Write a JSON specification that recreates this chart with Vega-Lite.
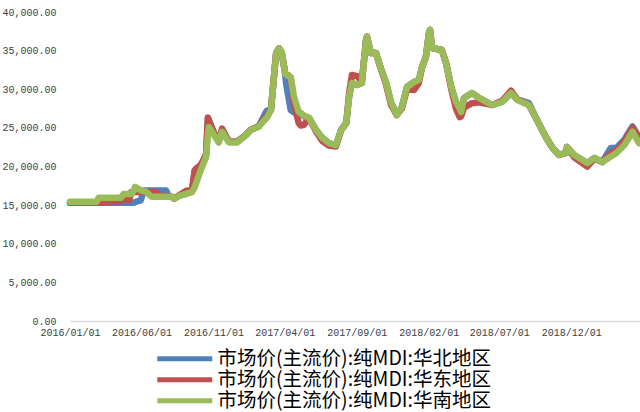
{
  "$schema": "https://vega.github.io/schema/vega-lite/v6.json",
  "width": 570,
  "height": 309,
  "autosize": "none",
  "padding": {"left": 70, "top": 12, "right": 0, "bottom": 91},
  "background": "white",
  "config": {"view": {"stroke": null}},
  "data": {"values": [
    {"d":"2016/01/01","华北地区":15300,"华东地区":15300,"华南地区":15450},
    {"d":"2016/02/27","华北地区":15300,"华东地区":15300,"华南地区":15450},
    {"d":"2016/03/02","华北地区":15300,"华东地区":15300,"华南地区":15960},
    {"d":"2016/04/10","华北地区":15300,"华东地区":15500,"华南地区":15960},
    {"d":"2016/04/18","华北地区":15300,"华东地区":15500,"华南地区":15960},
    {"d":"2016/04/24","华北地区":15300,"华东地区":15660,"华南地区":16440},
    {"d":"2016/05/06","华北地区":15300,"华东地区":15660,"华南地区":16440},
    {"d":"2016/05/10","华北地区":15300,"华东地区":16700,"华南地区":16440},
    {"d":"2016/05/16","华北地区":15300,"华东地区":16700,"华南地区":16900},
    {"d":"2016/05/18","华北地区":15400,"华东地区":16700,"华南地区":17350},
    {"d":"2016/05/30","华北地区":15600,"华东地区":16700,"华南地区":16950},
    {"d":"2016/06/06","华北地区":16900,"华东地区":16700,"华南地区":16800},
    {"d":"2016/06/10","华北地区":16900,"华东地区":16700,"华南地区":16740},
    {"d":"2016/06/23","华北地区":16900,"华东地区":16700,"华南地区":16090},
    {"d":"2016/07/01","华北地区":16900,"华东地区":16700,"华南地区":16090},
    {"d":"2016/07/12","华北地区":16900,"华东地区":16200,"华南地区":16090},
    {"d":"2016/07/23","华北地区":16900,"华东地区":16150,"华南地区":16090},
    {"d":"2016/07/29","华北地区":16100,"华东地区":16100,"华南地区":16090},
    {"d":"2016/08/04","华北地区":16090,"华东地区":16090,"华南地区":16090},
    {"d":"2016/08/09","华北地区":15850,"华东地区":15850,"华南地区":15800},
    {"d":"2016/08/19","华北地区":16200,"华东地区":16250,"华南地区":16180},
    {"d":"2016/09/05","华北地区":16500,"华东地区":16900,"华南地区":16500},
    {"d":"2016/09/14","华北地区":16800,"华东地区":16800,"华南地区":16610},
    {"d":"2016/09/16","华北地区":16800,"华东地区":16800,"华南地区":16700},
    {"d":"2016/09/22","华北地区":19500,"华东地区":19500,"华南地区":17300},
    {"d":"2016/09/25","华北地区":19700,"华东地区":19700,"华南地区":17860},
    {"d":"2016/10/05","华北地区":20200,"华东地区":20200,"华南地区":19550},
    {"d":"2016/10/16","华北地区":21500,"华东地区":21500,"华南地区":21230},
    {"d":"2016/10/20","华北地区":26300,"华东地区":26300,"华南地区":24000},
    {"d":"2016/10/22","华北地区":26000,"华东地区":26000,"华南地区":25100},
    {"d":"2016/11/02","华北地区":24300,"华东地区":24300,"华南地区":24080},
    {"d":"2016/11/12","华北地区":23300,"华东地区":23300,"华南地区":23100},
    {"d":"2016/11/19","华北地区":24700,"华东地区":24900,"华南地区":24500},
    {"d":"2016/12/04","华北地区":23200,"华东地区":23200,"华南地区":23100},
    {"d":"2016/12/21","华北地区":23200,"华东地区":23200,"华南地区":23100},
    {"d":"2017/01/09","华北地区":24100,"华东地区":24100,"华南地区":24080},
    {"d":"2017/01/19","华北地区":24750,"华东地区":24750,"华南地区":24720},
    {"d":"2017/02/05","华北地区":25200,"华东地区":25200,"华南地区":25150},
    {"d":"2017/02/20","华北地区":27000,"华东地区":26400,"华南地区":26200},
    {"d":"2017/02/22","华北地区":27200,"华东地区":26500,"华南地区":26280},
    {"d":"2017/03/03","华北地区":27400,"华东地区":27400,"华南地区":27300},
    {"d":"2017/03/10","华北地区":32100,"华东地区":32100,"华南地区":32100},
    {"d":"2017/03/14","华北地区":34700,"华东地区":34700,"华南地区":34700},
    {"d":"2017/03/20","华北地区":35300,"华东地区":35300,"华南地区":35300},
    {"d":"2017/03/26","华北地区":34700,"华东地区":34700,"华南地区":34700},
    {"d":"2017/04/02","华北地区":32100,"华东地区":32100,"华南地区":32100},
    {"d":"2017/04/04","华北地区":30800,"华东地区":31900,"华南地区":31900},
    {"d":"2017/04/09","华北地区":29000,"华东地区":31800,"华南地区":31700},
    {"d":"2017/04/14","华北地区":27300,"华东地区":31500,"华南地区":31590},
    {"d":"2017/04/21","华北地区":27000,"华东地区":28000,"华南地区":29000},
    {"d":"2017/05/01","华北地区":27000,"华东地区":25600,"华南地区":27050},
    {"d":"2017/05/05","华北地区":26900,"华东地区":25300,"华南地区":26900},
    {"d":"2017/05/12","华北地区":26500,"华东地区":25400,"华南地区":26600},
    {"d":"2017/05/23","华北地区":26280,"华东地区":26280,"华南地区":26280},
    {"d":"2017/06/07","华北地区":24720,"华东地区":24500,"华南地区":24720},
    {"d":"2017/06/20","华北地区":23700,"华东地区":23300,"华南地区":23690},
    {"d":"2017/07/04","华北地区":23040,"华东地区":22700,"华南地区":23040},
    {"d":"2017/07/19","华北地区":22780,"华东地区":22600,"华南地区":22780},
    {"d":"2017/07/30","华北地区":24720,"华东地区":24720,"华南地区":24720},
    {"d":"2017/08/10","华北地区":25630,"华东地区":25630,"华南地区":25630},
    {"d":"2017/08/16","华北地区":29030,"华东地区":29500,"华南地区":29030},
    {"d":"2017/08/22","华北地区":30800,"华东地区":31850,"华南地区":30800},
    {"d":"2017/09/02","华北地区":30550,"华东地区":31700,"华南地区":30550},
    {"d":"2017/09/12","华北地区":30800,"华东地区":31000,"华南地区":30800},
    {"d":"2017/09/21","华北地区":36370,"华东地区":36370,"华南地区":36370},
    {"d":"2017/09/23","华北地区":36800,"华东地区":36800,"华南地区":36800},
    {"d":"2017/10/01","华北地区":34700,"华东地区":34700,"华南地区":34700},
    {"d":"2017/10/12","华北地区":34700,"华东地区":34700,"华南地区":34700},
    {"d":"2017/10/22","华北地区":32750,"华东地区":32750,"华南地区":32750},
    {"d":"2017/11/02","华北地区":30940,"华东地区":30700,"华南地区":30940},
    {"d":"2017/11/13","华北地区":28350,"华东地区":28000,"华南地区":28350},
    {"d":"2017/11/25","华北地区":26670,"华东地区":26670,"华南地区":26670},
    {"d":"2017/12/06","华北地区":27700,"华东地区":27500,"华南地区":27700},
    {"d":"2017/12/17","华北地区":30290,"华东地区":30000,"华南地区":30290},
    {"d":"2018/01/01","华北地区":30940,"华东地区":29900,"华南地区":30940},
    {"d":"2018/01/11","华北地区":31200,"华东地区":30800,"华南地区":31200},
    {"d":"2018/01/18","华北地区":32880,"华东地区":32880,"华南地区":32880},
    {"d":"2018/01/26","华北地区":34170,"华东地区":34170,"华南地区":34170},
    {"d":"2018/02/02","华北地区":37400,"华东地区":37400,"华南地区":37400},
    {"d":"2018/02/04","华北地区":37670,"华东地区":37670,"华南地区":37670},
    {"d":"2018/02/08","华北地区":35340,"华东地区":35340,"华南地区":35340},
    {"d":"2018/03/01","华北地区":35080,"华东地区":35080,"华南地区":35080},
    {"d":"2018/03/10","华北地区":33400,"华东地区":33400,"华南地区":33400},
    {"d":"2018/03/21","华北地区":30290,"华东地区":30000,"华南地区":30290},
    {"d":"2018/03/31","华北地区":28350,"华东地区":27500,"华南地区":28350},
    {"d":"2018/04/08","华北地区":27500,"华东地区":26400,"华南地区":27500},
    {"d":"2018/04/11","华北地区":27050,"华东地区":26500,"华南地区":27050},
    {"d":"2018/04/17","华北地区":28870,"华东地区":27600,"华南地区":28870},
    {"d":"2018/05/04","华北地区":29520,"华东地区":28200,"华南地区":29520},
    {"d":"2018/05/19","华北地区":28870,"华东地区":28300,"华南地区":28870},
    {"d":"2018/06/16","华北地区":27960,"华东地区":27960,"华南地区":27960},
    {"d":"2018/07/07","华北地区":28350,"华东地区":28500,"华南地区":28350},
    {"d":"2018/07/26","华北地区":29520,"华东地区":29810,"华南地区":29520},
    {"d":"2018/08/08","华北地区":28700,"华东地区":28700,"华南地区":28610},
    {"d":"2018/09/02","华北地区":28200,"华东地区":27960,"华南地区":27960},
    {"d":"2018/09/19","华北地区":26020,"华东地区":26020,"华南地区":26020},
    {"d":"2018/10/08","华北地区":23820,"华东地区":23820,"华南地区":23820},
    {"d":"2018/10/21","华北地区":22520,"华东地区":22520,"华南地区":22520},
    {"d":"2018/11/05","华北地区":21490,"华东地区":21490,"华南地区":21490},
    {"d":"2018/11/20","华北地区":21750,"华东地区":21750,"华南地区":21750},
    {"d":"2018/11/22","华北地区":22520,"华东地区":22520,"华南地区":22520},
    {"d":"2018/12/07","华北地区":21490,"华东地区":21200,"华南地区":21490},
    {"d":"2019/01/04","华北地区":20450,"华东地区":20000,"华南地区":20450},
    {"d":"2019/01/19","华北地区":21100,"华东地区":21000,"华南地区":21100},
    {"d":"2019/02/05","华北地区":20580,"华东地区":20580,"华南地区":20580},
    {"d":"2019/02/23","华北地区":22400,"华东地区":21700,"华南地区":21300},
    {"d":"2019/03/07","华北地区":22400,"华东地区":22100,"华南地区":21750},
    {"d":"2019/03/24","华北地区":23500,"华东地区":23300,"华南地区":22780},
    {"d":"2019/04/10","华北地区":25200,"华东地区":25000,"华南地区":24500},
    {"d":"2019/04/24","华北地区":23800,"华东地区":23700,"华南地区":23040}
  ]},
  "transform": [
    {"fold": ["华北地区", "华东地区", "华南地区"], "as": ["region", "price"]}
  ],
  "encoding": {
    "x": {
      "field": "d", "type": "temporal", "title": null,
      "scale": {"domain": [{"year": 2016, "month": 1, "date": 1}, {"year": 2019, "month": 4, "date": 26}]},
      "axis": {
        "values": [
          {"year": 2016, "month": 1, "date": 1},
          {"year": 2016, "month": 6, "date": 1},
          {"year": 2016, "month": 11, "date": 1},
          {"year": 2017, "month": 4, "date": 1},
          {"year": 2017, "month": 9, "date": 1},
          {"year": 2018, "month": 2, "date": 1},
          {"year": 2018, "month": 7, "date": 1},
          {"year": 2018, "month": 12, "date": 1}
        ],
        "format": "%Y/%m/%d",
        "grid": false, "ticks": false,
        "domainColor": "#d9d9d9", "domainWidth": 1.5,
        "labelFont": "Liberation Mono", "labelFontSize": 10, "labelColor": "#404040",
        "labelPadding": 6, "labelOverlap": false, "labelFlush": false, "labelBound": false
      }
    },
    "y": {
      "field": "price", "type": "quantitative", "title": null,
      "scale": {"domain": [0, 40000], "nice": false},
      "axis": {
        "values": [0, 5000, 10000, 15000, 20000, 25000, 30000, 35000, 40000],
        "format": ",.2f",
        "grid": false, "ticks": false, "domain": false,
        "labelFont": "Liberation Mono", "labelFontSize": 10, "labelColor": "#404040",
        "labelPadding": 14
      }
    },
    "color": {
      "field": "region", "type": "nominal",
      "scale": {"domain": ["华北地区", "华东地区", "华南地区"], "range": ["#4f81bd", "#c0504d", "#9bbb59"]},
      "legend": {
        "title": null,
        "orient": "none", "legendX": 105, "legendY": 337,
        "direction": "vertical",
        "symbolType": "M-4.23,0H4.23", "symbolSize": 169, "symbolStrokeWidth": 5,
        "labelFont": "Noto Sans CJK SC", "labelFontSize": 19.5, "labelColor": "#000000",
        "labelLimit": 500, "labelOffset": 23, "rowPadding": 0, "padding": 0,
        "labelExpr": "'市场价(主流价):纯MDI:' + datum.label"
      }
    }
  },
  "layer": [
    {"transform": [{"filter": "datum.region === '华北地区'"}],
     "mark": {"type": "line", "strokeWidth": 6.5, "strokeCap": "round", "strokeJoin": "round"}},
    {"transform": [{"filter": "datum.region === '华东地区'"}],
     "mark": {"type": "line", "strokeWidth": 6.5, "strokeCap": "round", "strokeJoin": "round"}},
    {"transform": [{"filter": "datum.region === '华南地区'"}],
     "mark": {"type": "line", "strokeWidth": 6.5, "strokeCap": "round", "strokeJoin": "round"}}
  ]
}
